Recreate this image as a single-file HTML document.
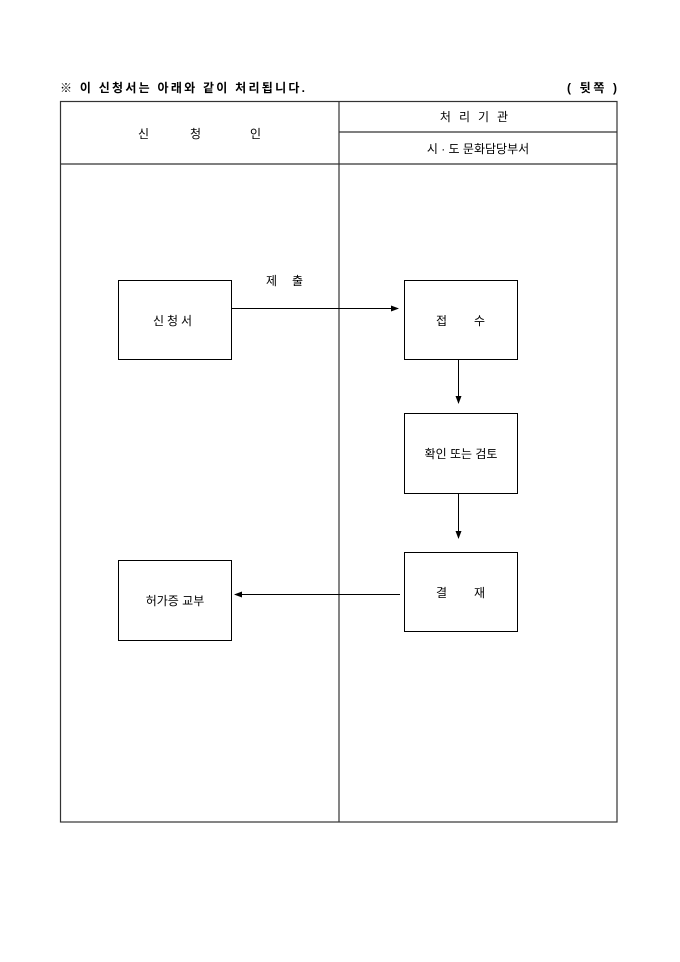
<!DOCTYPE html>
<html><head><meta charset="utf-8"><style>
html,body{margin:0;padding:0;background:#fff;}
svg{display:block;}
text{font-family:"Liberation Sans","Noto Sans CJK KR",sans-serif;fill:#000;}
</style></head><body>
<svg width="680" height="962" viewBox="0 0 680 962" xmlns="http://www.w3.org/2000/svg">
<defs><marker id="a" markerWidth="8" markerHeight="8" refX="7" refY="4" orient="auto" markerUnits="userSpaceOnUse"><path d="M0,1 L8,4 L0,7 z" fill="#000"/></marker></defs>
<text x="60" y="92" font-size="12" font-weight="bold" textLength="245" lengthAdjust="spacing">※ 이 신청서는 아래와 같이 처리됩니다.</text>
<text x="567" y="92" font-size="12" font-weight="bold" textLength="50" lengthAdjust="spacing">( 뒷쪽 )</text>
<g stroke="#333" stroke-width="1.2" fill="none">
<rect x="60.5" y="101.5" width="556.5" height="720.5"/>
<line x1="339" y1="101" x2="339" y2="822"/>
<line x1="60" y1="164" x2="617" y2="164"/>
<line x1="339" y1="132" x2="617" y2="132"/>
</g>
<text x="138" y="138" font-size="12">신</text>
<text x="190" y="138" font-size="12">청</text>
<text x="250" y="138" font-size="12">인</text>
<text x="478" y="121" font-size="12" text-anchor="middle" letter-spacing="8">처리기관</text>
<text x="478" y="153" font-size="12" text-anchor="middle">시 · 도 문화담당부서</text>
<g stroke="#000" stroke-width="1" fill="#fff">
<rect x="118.5" y="280.5" width="113" height="79"/>
<rect x="404.5" y="280.5" width="113" height="79"/>
<rect x="404.5" y="413.5" width="113" height="80"/>
<rect x="404.5" y="552.5" width="113" height="79"/>
<rect x="118.5" y="560.5" width="113" height="80"/>
</g>
<g stroke="#000" stroke-width="1" marker-end="url(#a)">
<line x1="231" y1="308.5" x2="398" y2="308.5"/>
<line x1="458.5" y1="359" x2="458.5" y2="403"/>
<line x1="458.5" y1="493" x2="458.5" y2="538"/>
<line x1="400" y1="594.5" x2="235" y2="594.5"/>
</g>
<text x="266" y="285" font-size="12">제</text>
<text x="292" y="285" font-size="12">출</text>
<text x="174" y="325" font-size="12" text-anchor="middle" letter-spacing="3">신청서</text>
<text x="436" y="325" font-size="12">접</text>
<text x="474" y="325" font-size="12">수</text>
<text x="461" y="458" font-size="12" text-anchor="middle">확인 또는 검토</text>
<text x="436" y="597" font-size="12">결</text>
<text x="474" y="597" font-size="12">재</text>
<text x="175" y="605" font-size="12" text-anchor="middle">허가증 교부</text>
</svg>
</body></html>
